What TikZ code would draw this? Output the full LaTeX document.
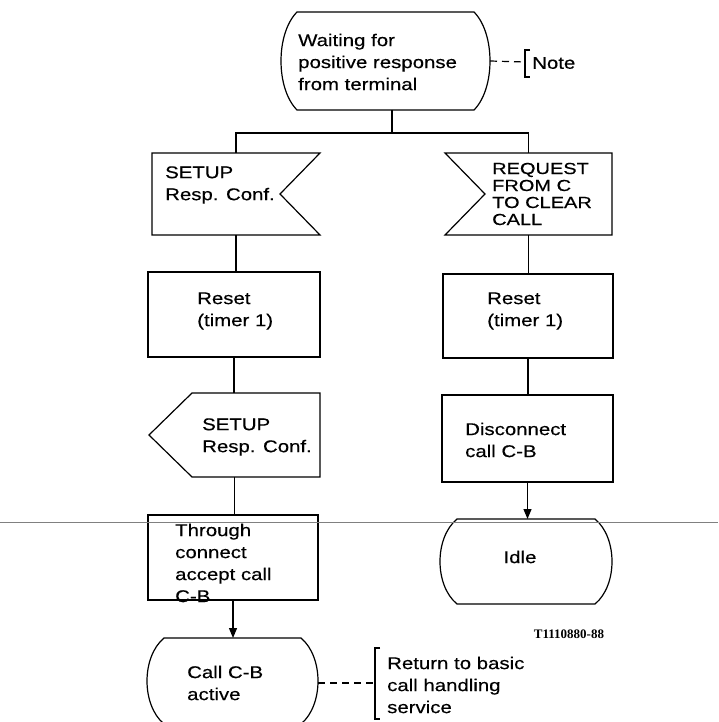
\documentclass[tikz,border=0pt]{standalone}
\usepackage{fontspec}
\setmainfont{Liberation Sans}[FakeStretch=1.2,FakeBold=0.4]
\newfontfamily\capsfont{Liberation Sans}[FakeStretch=1.25,FakeBold=0.5]
\newfontfamily\codefont{Liberation Serif}
\usetikzlibrary{calc,arrows.meta,fit}

% state symbol: straight top and bottom, bulging sides
% #1 name, #2 x1, #3 y1, #4 x2, #5 y2, #6 inset of the corners
\newcommand\statesym[6]{%
  \node[box, fit={(#2,#3) (#4,#5)}] (#1) {};
  \draw[outline] ({#2+#6},#3) -- ({#4-#6},#3)
    .. controls ({#4+#6/3},{#3+0.22*(#5-#3)}) and ({#4+#6/3},{#5-0.22*(#5-#3)}) .. ({#4-#6},#5)
    -- ({#2+#6},#5)
    .. controls ({#2-#6/3},{#5-0.22*(#5-#3)}) and ({#2-#6/3},{#3+0.22*(#5-#3)}) .. cycle;
}

\begin{document}
\begin{tikzpicture}[x=1pt,y=-1pt,
  box/.style={draw=none, rectangle, inner sep=0pt, outer sep=0pt},
  outline/.style={draw=black, line width=1.2pt, line join=miter},
  taskbox/.style={box, draw=black, line width=1.2pt},
  txt/.style={anchor=west, align=left, inner sep=0pt, font=\fontsize{17}{22}\selectfont},
  capstxt/.style={anchor=west, align=left, inner sep=0pt, font=\capsfont\fontsize{16}{17}\selectfont},
  flow/.style={draw=black, line width=1.2pt},
  arr/.style={flow, -{Triangle[length=10pt,width=8pt]}},
  notelink/.style={draw=black, line width=1.2pt, dash pattern=on 7pt off 5pt},
  bracket/.style={draw=black, line width=1.2pt},
]
\useasboundingbox[fill=white] (0,0) rectangle (718,722);

% ---- symbols ----
\statesym{st0}{281}{12}{490}{110}{16}
\node[txt] (t-st0) at (298,62) {Waiting for\\positive response\\from terminal};

% input signals
\node[box, fit={(152,153) (320,235)}] (in1) {};
\draw[outline] (152,153) -- (320,153) -- (280,194) -- (320,235) -- (152,235) -- cycle;
\node[txt] (t-in1) at (165,185) {SETUP\\Resp. Conf.};

\node[box, fit={(445,153) (612,235)}] (in2) {};
\draw[outline] (445,153) -- (612,153) -- (612,235) -- (445,235) -- (485,194) -- cycle;
\node[capstxt] (t-in2) at (492,194) {REQUEST\\FROM C\\TO CLEAR\\CALL};

% tasks
\node[taskbox, fit={(148,272) (320,357)}] (rs1) {};
\node[txt] (t-rs1) at (197,311) {Reset\\(timer 1)};
\node[taskbox, fit={(443,274) (613,358)}] (rs2) {};
\node[txt] (t-rs2) at (487,311) {Reset\\(timer 1)};

% output signal
\node[box, fit={(149,393) (320,477)}] (out1) {};
\draw[outline] (192,393) -- (320,393) -- (320,477) -- (192,477) -- (149,435) -- cycle;
\node[txt] (t-out1) at (202,437) {SETUP\\Resp. Conf.};

\node[taskbox, fit={(442,395) (613,482)}] (disc) {};
\node[txt] (t-disc) at (465,440) {Disconnect\\call C-B};

\node[taskbox, fit={(148,515) (318,600)}] (thr) {};
\node[txt] (t-thr) at (175,563) {Through\\connect\\accept call\\C-B};

% next states
\statesym{idle}{440}{519}{612}{604}{17}
\node[txt, anchor=center] (t-idle) at (520,557) {Idle};
\statesym{call}{147}{638}{318}{724}{17}
\node[txt] (t-call) at (187,683) {Call C-B\\active};

% ---- flow lines ----
\coordinate (j) at (392,133);
\draw[flow] (st0.south -| j) -- (j);
\draw[flow] (in1.north) |- (j) -| (in2.north);
\draw[flow] (in1.south) -- (in1.south |- rs1.north);
\draw[flow] (rs1.south) -- (rs1.south |- out1.north);
\draw[flow] (out1.south) -- (out1.south |- thr.north);
\draw[arr] (thr.south) -- (thr.south |- call.north);
\draw[flow] (in2.south) -- (in2.south |- rs2.north);
\draw[flow] (rs2.south) -- (rs2.south |- disc.north);
\draw[arr] (disc.south) -- (disc.south |- idle.north);

% ---- comments ----
\coordinate (br1) at (525,62);
\draw[notelink] (st0.east) -- (br1);
\draw[bracket] (530,50) -- (525,50) -- (525,77) -- (530,77);
\node[txt] (note) at (532,63) {Note};

\coordinate (br2) at (375,683);
\draw[notelink] (call.east |- br2) -- (br2);
\draw[bracket] (380,648) -- (375,648) -- (375,719) -- (380,719);
\node[txt] (ret) at (387,685) {Return to basic\\call handling\\service};

% figure reference
\node[anchor=center, inner sep=0pt, font=\codefont\bfseries\fontsize{13}{14}\selectfont] (ref) at (569,634) {T1110880-88};

% horizontal rule across the sheet
\draw[black!50, line width=0.8pt] (0,522) -- (718,522);
\end{tikzpicture}
\end{document}
